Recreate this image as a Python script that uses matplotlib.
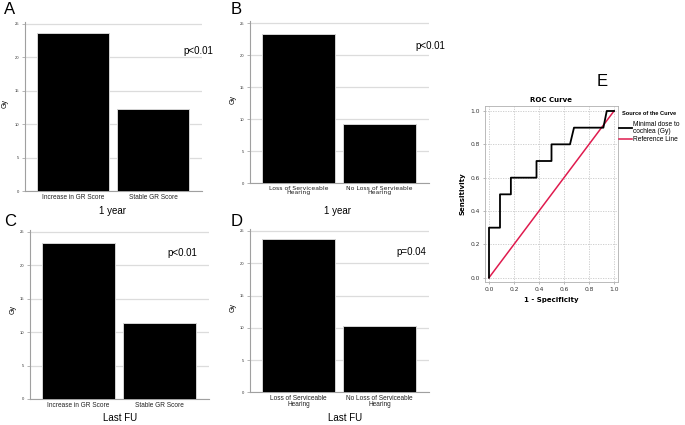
import matplotlib
matplotlib.use("Agg")
import matplotlib.pyplot as plt

# ---------------- data ----------------
gr_categories = ["Increase in GR Score", "Stable GR Score"]
hear_categories_b = ["Loss of Serviceable\nHearing", "No Loss of Servieable\nHearing"]
hear_categories_d = ["Loss of Serviceable\nHearing", "No Loss of Serviceable\nHearing"]

a_values = [23.7, 12.3]   # 1 year, GR score
b_values = [23.4, 9.2]    # 1 year, hearing
c_values = [23.3, 11.3]   # Last FU, GR score
d_values = [23.7, 10.2]   # Last FU, hearing

yticks = [0, 5, 10, 15, 20, 25]

roc_fpr = [0, 0, 0.088, 0.088, 0.175, 0.175, 0.38, 0.38, 0.5, 0.5, 0.648, 0.68, 0.915, 0.942, 1.0]
roc_tpr = [0, 0.3, 0.3, 0.5, 0.5, 0.6, 0.6, 0.7, 0.7, 0.8, 0.8, 0.9, 0.9, 1.0, 1.0]
ref_x = [0, 1]
ref_y = [0, 1]
roc_ticks = [0.0, 0.2, 0.4, 0.6, 0.8, 1.0]

W, H = 685, 425
fig = plt.figure(figsize=(W / 100, H / 100), dpi=100)
fig.patch.set_facecolor("white")

ARIAL = "Liberation Sans"


def rect(l, t, r, b):
    return [l / W, 1 - b / H, (r - l) / W, (b - t) / H]


def ftxt(x, y, s, **kw):
    fig.text(x / W, 1 - y / H, s, **kw)


def bar_panel(r, cats, vals, catfont, catsize):
    ax = fig.add_axes(rect(*r))
    ax.bar(range(len(cats)), vals, width=0.9, color="black",
           edgecolor="#d4d4d4", linewidth=0.7, zorder=3)
    ax.set_xlim(-0.6, 1.61)
    ax.set_ylim(0, 25.34)
    ax.set_yticks(yticks)
    ax.set_yticklabels([str(t) for t in yticks], fontsize=3, family=ARIAL,
                       color="#333333")
    ax.set_xticks(range(len(cats)))
    ax.set_xticklabels(cats, fontsize=catsize, family=catfont, linespacing=0.85,
                       color="#222222")
    ax.tick_params(axis="x", length=0, pad=2)
    ax.tick_params(axis="y", length=2, width=0.5, color="#999999", pad=2)
    ax.grid(axis="y", color="#dcdcdc", linewidth=0.9, zorder=0)
    for s in ("top", "right"):
        ax.spines[s].set_visible(False)
    for s in ("left", "bottom"):
        ax.spines[s].set_color("#a0a0a0")
        ax.spines[s].set_linewidth(0.8)
    return ax


bar_panel((25, 21.7, 202, 191), gr_categories, a_values, ARIAL, 4.7)
bar_panel((250, 21.1, 429, 183.3), hear_categories_b, b_values, "DejaVu Sans", 4.4)
bar_panel((30, 229.5, 209, 399), gr_categories, c_values, ARIAL, 4.7)
bar_panel((250, 228.8, 429, 392.3), hear_categories_d, d_values, ARIAL, 4.7)

# panel letters
for x, y, s in [(4, 10, "A"), (231, 10, "B"), (4, 221, "C"), (231, 221, "D"), (597, 81, "E")]:
    ftxt(x, y, s, fontsize=12, family=ARIAL, ha="left", va="center")

# p-values
ftxt(183, 51.5, "p<0.01", fontsize=7, family=ARIAL, ha="left", va="center")
ftxt(415, 46, "p<0.01", fontsize=7, family=ARIAL, ha="left", va="center")
ftxt(167, 252.5, "p<0.01", fontsize=7, family=ARIAL, ha="left", va="center")
ftxt(396, 252, "p=0.04", fontsize=7, family=ARIAL, ha="left", va="center")

# x titles
ftxt(113, 211, "1 year", fontsize=7, family=ARIAL, ha="center", va="center")
ftxt(338, 211, "1 year", fontsize=7, family=ARIAL, ha="center", va="center")
ftxt(120, 418, "Last FU", fontsize=7, family=ARIAL, ha="center", va="center")
ftxt(345, 418, "Last FU", fontsize=7, family=ARIAL, ha="center", va="center")

# y titles
for x, y in [(5.5, 103), (232.7, 100), (12.7, 310), (232.7, 308)]:
    ftxt(x, y, "Gy", fontsize=5, family=ARIAL, rotation=90, ha="center", va="center")

# ---------------- ROC panel ----------------
ax = fig.add_axes(rect(485, 106, 618, 282))
ax.plot(roc_fpr, roc_tpr, color="black", linewidth=1.3, zorder=3,
        label="Minimal dose to\ncochlea (Gy)")
ax.plot(ref_x, ref_y, color="#df1b4e", linewidth=1.1, zorder=2, label="Reference Line")
ax.set_xlim(-0.032, 1.032)
ax.set_ylim(-0.026, 1.03)
ax.set_xticks(roc_ticks)
ax.set_yticks(roc_ticks)
ax.set_xticklabels([f"{t:.1f}" for t in roc_ticks], fontsize=4.3, color="#333333")
ax.set_yticklabels([f"{t:.1f}" for t in roc_ticks], fontsize=4.3, color="#333333")
ax.tick_params(length=1.5, width=0.5, color="#999999", pad=2)
ax.grid(color="#c8c8c8", linestyle=(0, (1.5, 1.5)), linewidth=0.6, zorder=0)
for s in ax.spines.values():
    s.set_color("#b0b0b0")
    s.set_linewidth(0.6)
ax.set_title("ROC Curve", fontsize=5, fontweight="bold", pad=3)
ax.set_xlabel("1 - Specificity", fontsize=5, fontweight="bold", labelpad=4)
ax.set_ylabel("Sensitivity", fontsize=5, fontweight="bold", labelpad=4)
leg = ax.legend(loc="upper left", bbox_to_anchor=(1.01, 0.974), frameon=False,
                prop={"family": ARIAL, "size": 4.8}, title="Source of the Curve\n",
                handlelength=1.9, handletextpad=0.12, borderaxespad=0, borderpad=0,
                labelspacing=0.2, alignment="center")
leg.get_title().set_fontsize(4.1)
leg.get_title().set_fontweight("bold")
leg.get_title().set_family(ARIAL)
leg.get_title().set_linespacing(0.8)
for t in leg.get_texts():
    t.set_linespacing(0.9)

fig.savefig("out.png", dpi=100)
